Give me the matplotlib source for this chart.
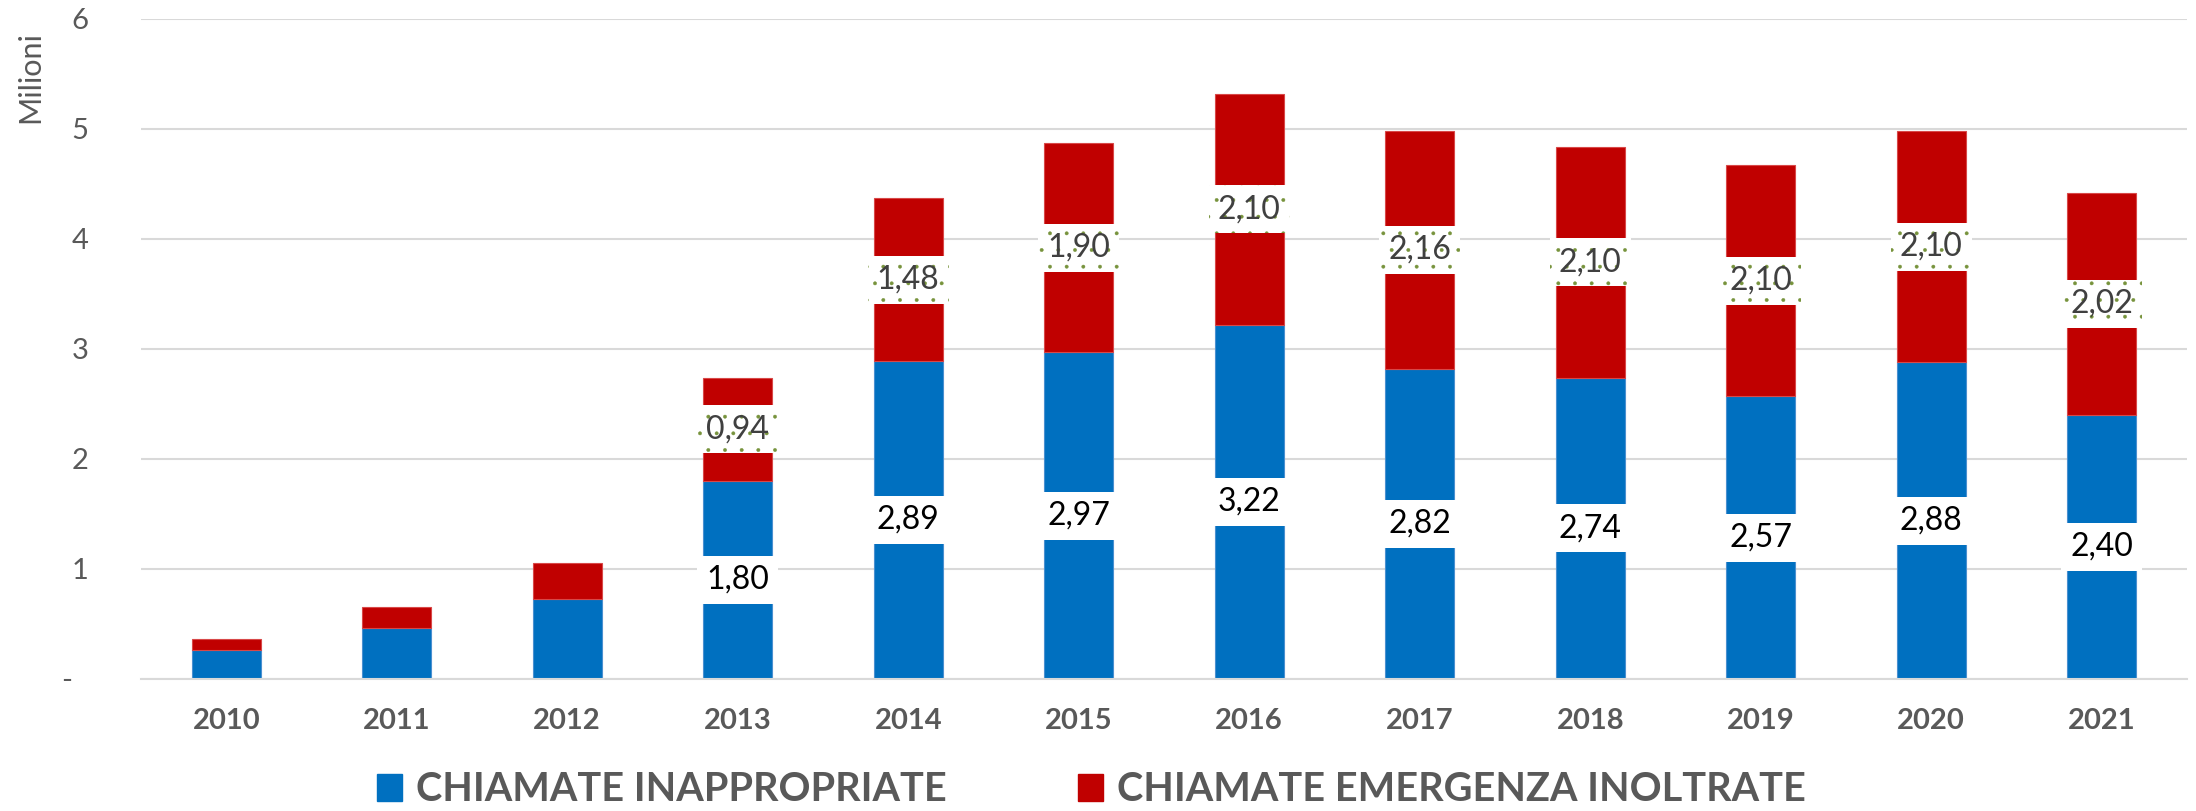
import numpy as np
import matplotlib
matplotlib.use('Agg')
import matplotlib.pyplot as plt
from matplotlib.patches import Patch

plt.rcParams['font.family'] = ['Lato', 'DejaVu Sans']
plt.rcParams['hatch.linewidth'] = 0.3

years = ['2010', '2011', '2012', '2013', '2014', '2015',
         '2016', '2017', '2018', '2019', '2020', '2021']
inappropriate = [0.26, 0.46, 0.73, 1.80, 2.89, 2.97, 3.22, 2.82, 2.74, 2.57, 2.88, 2.40]
forwarded = [0.10, 0.19, 0.32, 0.94, 1.48, 1.90, 2.10, 2.16, 2.10, 2.10, 2.10, 2.02]
labelled = [False, False, False, True, True, True, True, True, True, True, True, True]
yticks = [0, 1, 2, 3, 4, 5, 6]
ytick_labels = ['-  ', '1', '2', '3', '4', '5', '6']

BLUE = '#0070C0'
RED = '#C00000'
GREY = '#595959'

fig = plt.figure(figsize=(21.96, 8.11), dpi=100)
ax = fig.add_axes([0.0642, 0.1628, 0.9317, 0.8138])

x = np.arange(len(years))
w = 0.405
ax.bar(x, inappropriate, w, color=BLUE, edgecolor='#4A90D0', linewidth=0.8, zorder=2)
ax.bar(x, forwarded, w, bottom=inappropriate, color=RED, edgecolor='#D84848',
       linewidth=0.8, zorder=2)


def fmt(v):
    return '{:.2f}'.format(v).replace('.', ',')


for i in x:
    if not labelled[i]:
        continue
    ax.text(i, inappropriate[i] / 2, fmt(inappropriate[i]), ha='center', va='center',
            fontsize=23, color='black', zorder=4,
            bbox=dict(boxstyle='square,pad=0.28', fc='white', ec='none', lw=0))
    ax.text(i, inappropriate[i] + forwarded[i] / 2, fmt(forwarded[i]), ha='center',
            va='center', fontsize=23, color='#404040', zorder=4,
            bbox=dict(boxstyle='square,pad=0.28', fc='white', ec='#77933C', lw=0,
                      hatch='.'))

ax.set_xlim(-0.5, len(years) - 0.5)
ax.set_ylim(0, 6)
ax.set_xticks(x)
ax.set_xticklabels(years, fontsize=21, fontweight='bold', color=GREY)
ax.set_yticks(yticks)
ax.set_yticklabels(ytick_labels, fontsize=21, color=GREY)
ax.tick_params(axis='x', length=0, pad=21)
ax.tick_params(axis='y', length=0, pad=38)
ax.yaxis.grid(True, color='#D9D9D9', linewidth=1.5, zorder=0)
ax.set_axisbelow(True)
for s in ['top', 'right', 'left']:
    ax.spines[s].set_visible(False)
ax.spines['bottom'].set_color('#D9D9D9')
ax.spines['bottom'].set_linewidth(1.5)

fig.text(30 / 2196, 1 - 77 / 811, 'Milioni', rotation=90, ha='center', va='center',
         fontsize=22, color=GREY)

handles = [Patch(color=BLUE), Patch(color=RED)]
fig.legend(handles, ['CHIAMATE INAPPROPRIATE', 'CHIAMATE EMERGENZA INOLTRATE'],
           loc='center', bbox_to_anchor=(0.497, 0.026), ncol=2, frameon=False,
           prop={'size': 28.5, 'weight': 'bold'}, labelcolor=GREY,
           handlelength=0.65, handleheight=0.65, handletextpad=0.35, columnspacing=3.3)

fig.savefig('out.png', dpi=100)
